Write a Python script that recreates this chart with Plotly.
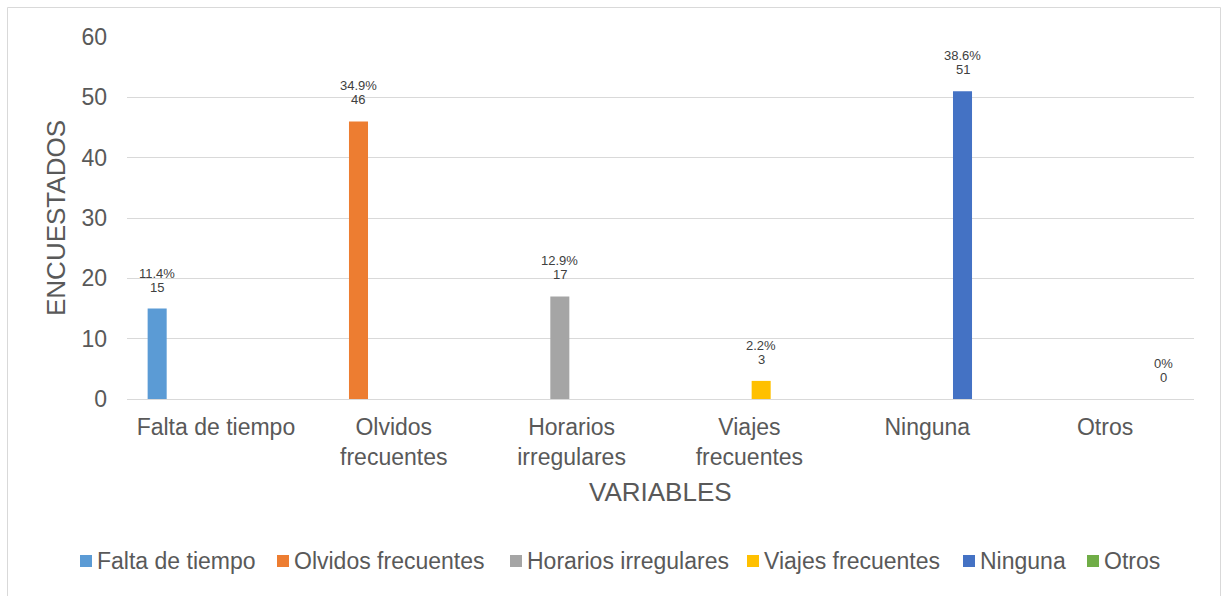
import plotly.graph_objects as go

categories = ["Falta de tiempo", "Olvidos frecuentes", "Horarios irregulares",
              "Viajes frecuentes", "Ninguna", "Otros"]
tick_labels = ["Falta de tiempo", "Olvidos<br>frecuentes", "Horarios<br>irregulares",
               "Viajes<br>frecuentes", "Ninguna", "Otros"]
counts = [15, 46, 17, 3, 51, 0]
percents = ["11.4%", "34.9%", "12.9%", "2.2%", "38.6%", "0%"]
colors = ["#5B9BD5", "#ED7D31", "#A5A5A5", "#FFC000", "#4472C4", "#70AD47"]

W, H = 1227, 596
ML, MT = 127, 37
PW = 1194 - 127
PH = 399 - 37
MR = W - ML - PW
MB = H - MT - PH
BARGAP = 0.207
BARGROUPGAP = 0.19
FONT = "Liberation Sans, Arial, sans-serif"
# legend layout (pixel positions of the swatches, Excel-style compact legend)
LEGEND_SWATCH_X = [80, 277, 510, 747, 963, 1087]
LEGEND_Y = 561
SWATCH = 12


def px_x(p):  # page pixel -> paper x
    return (p - ML) / PW


def px_y(p):  # page pixel -> paper y
    return (MT + PH - p) / PH


fig = go.Figure()
n = len(categories)
for i, name in enumerate(categories):
    y = [counts[i] if j == i else None for j in range(n)]
    fig.add_trace(go.Bar(
        x=categories, y=y, name=name, marker_color=colors[i],
        marker_line_width=0, showlegend=False,
    ))

# data labels (two lines, tighter than plotly's default line spacing)
catw = PW / n
slot = catw * (1 - BARGAP) / n
annotations = []
for i, name in enumerate(categories):
    for txt, shift in ((str(counts[i]), 12), (percents[i], 26)):
        annotations.append(dict(
            x=name, y=counts[i], xref="x", yref="y",
            text=txt, showarrow=False, xanchor="center", yanchor="bottom",
            xshift=(i - (n - 1) / 2) * slot, yshift=shift,
            font=dict(size=13, color="#404040", family=FONT),
        ))
# axis titles
annotations.append(dict(
    x=0.5, y=0, xref="paper", yref="paper", text="VARIABLES", showarrow=False,
    xanchor="center", yanchor="middle", yshift=-93,
    font=dict(size=26, color="#595959", family=FONT),
))
annotations.append(dict(
    x=0, y=0.5, xref="paper", yref="paper", text="ENCUESTADOS", showarrow=False,
    xanchor="center", yanchor="middle", xshift=-71, textangle=-90,
    font=dict(size=26, color="#595959", family=FONT),
))

shapes = [dict(
    type="rect", xref="paper", yref="paper", layer="below",
    x0=px_x(7.5), x1=px_x(1220.5),
    y0=px_y(620), y1=px_y(7.5),
    line=dict(color="#D9D9D9", width=1), fillcolor="rgba(0,0,0,0)",
)]
# legend: swatch + label for each series
for i, name in enumerate(categories):
    sx = LEGEND_SWATCH_X[i]
    shapes.append(dict(
        type="rect", xref="paper", yref="paper",
        x0=px_x(sx), x1=px_x(sx + SWATCH),
        y0=px_y(LEGEND_Y + SWATCH / 2), y1=px_y(LEGEND_Y - SWATCH / 2),
        line=dict(width=0), fillcolor=colors[i],
    ))
    annotations.append(dict(
        x=px_x(sx + SWATCH + 3), y=px_y(LEGEND_Y), xref="paper", yref="paper",
        text=name, showarrow=False, xanchor="left", yanchor="middle",
        font=dict(size=23, color="#595959", family=FONT),
    ))

fig.update_layout(
    width=W, height=H,
    margin=dict(l=ML, r=MR, t=MT, b=MB, autoexpand=False),
    paper_bgcolor="white", plot_bgcolor="white",
    barmode="group", bargap=BARGAP, bargroupgap=BARGROUPGAP,
    font=dict(family=FONT, color="#595959"),
    showlegend=False,
    annotations=annotations,
    shapes=shapes,
)
fig.update_xaxes(
    type="category", tickmode="array", tickvals=categories, ticktext=tick_labels,
    showgrid=False, showline=False, ticks="",
    tickfont=dict(size=23, color="#595959", family=FONT),
    ticklabelstandoff=12, automargin=False,
)
fig.update_yaxes(
    range=[0, 60], dtick=10, showgrid=True, gridcolor="#D9D9D9", gridwidth=1,
    zeroline=True, zerolinecolor="#D9D9D9", zerolinewidth=1,
    showline=False, ticks="",
    tickfont=dict(size=23, color="#595959", family=FONT),
    ticklabelstandoff=19, automargin=False,
)

fig.write_html(
    "out.html",
    config={"displayModeBar": False},
    post_script="document.body.style.margin='0';document.body.style.overflow='hidden';",
)
